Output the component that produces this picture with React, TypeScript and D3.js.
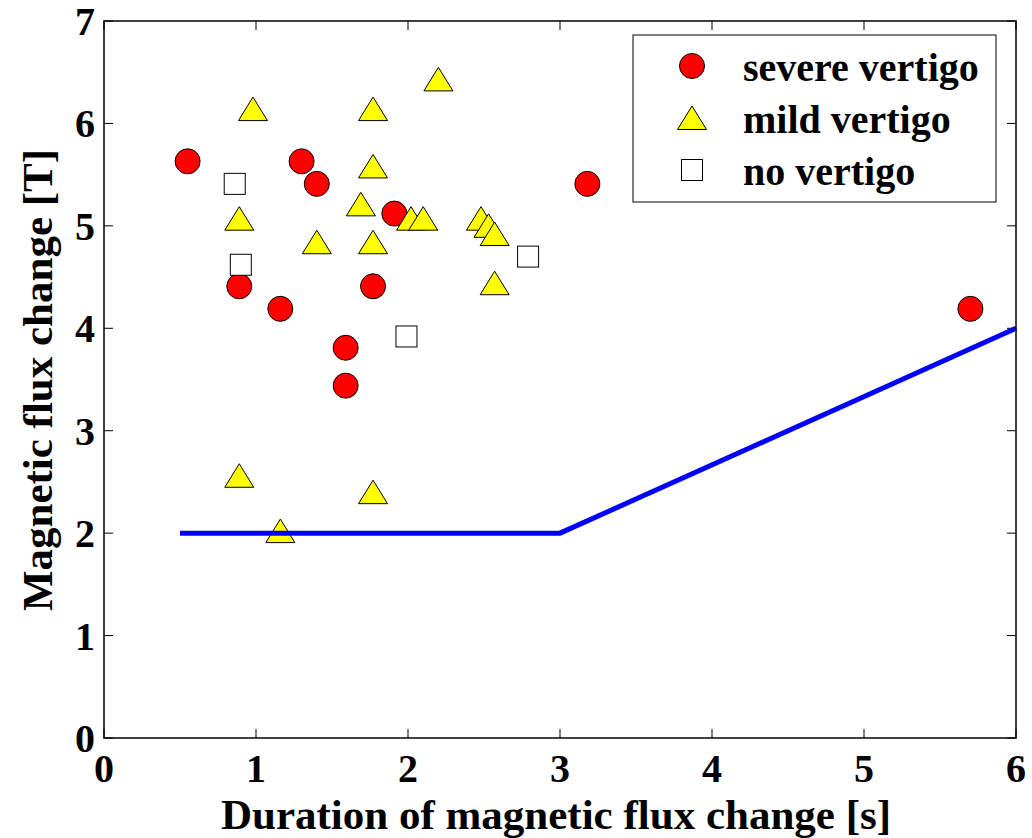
import React from "react";
import * as d3 from "d3";

// duration [s], flux change [T]
const severeX = [0.55, 1.3, 1.4, 1.91, 0.89, 1.77, 1.16, 1.59, 1.59, 3.18, 5.7];
const severeY = [5.63, 5.63, 5.41, 5.12, 4.41, 4.41, 4.19, 3.81, 3.44, 5.41, 4.19];

const mildX = [0.98, 1.77, 2.2, 1.77, 1.69, 0.89, 2.02, 2.1, 2.48, 2.53, 2.57, 1.4, 1.77, 2.57, 0.89, 1.77, 1.16];
const mildY = [6.14, 6.14, 6.43, 5.58, 5.21, 5.07, 5.07, 5.07, 5.07, 5.0, 4.92, 4.84, 4.84, 4.44, 2.56, 2.4, 2.02];

const noneX = [0.86, 0.9, 1.99, 2.79];
const noneY = [5.41, 4.62, 3.92, 4.7];

// threshold line
const limitX = [0.5, 3, 6];
const limitY = [2, 2, 4];

const xTicks = [0, 1, 2, 3, 4, 5, 6];
const yTicks = [0, 1, 2, 3, 4, 5, 6, 7];

const legendItems = ["severe vertigo", "mild vertigo", "no vertigo"];

const font = "'Liberation Serif', 'Times New Roman', serif";

export default function App() {
  const left = 104, right = 1016, top = 21, bottom = 738;
  const x = d3.scaleLinear().domain([0, 6]).range([left, right]);
  const y = d3.scaleLinear().domain([0, 7]).range([bottom, top]);

  const tri = (cx: number, cy: number) =>
    `M${cx},${cy - 12} L${cx + 14.5},${cy + 11.5} L${cx - 14.5},${cy + 11.5} Z`;

  const line = d3
    .line<number>()
    .x((d) => x(d))
    .y((_, i) => y(limitY[i]));

  const tickLen = 9;

  return (
    <svg
      width={1032}
      height={838}
      style={{ position: "absolute", left: 0, top: 0, background: "#fff" }}
      fontFamily={font}
      fontWeight="bold"
    >
      <rect x={0} y={0} width={1032} height={838} fill="#fff" />

      {/* ticks */}
      {xTicks.map((t) => (
        <g key={"xt" + t}>
          <line x1={x(t)} x2={x(t)} y1={bottom} y2={bottom - tickLen} stroke="#000" />
          <line x1={x(t)} x2={x(t)} y1={top} y2={top + tickLen} stroke="#000" />
          <text x={x(t)} y={782} fontSize={40} textAnchor="middle">
            {t}
          </text>
        </g>
      ))}
      {yTicks.map((t) => (
        <g key={"yt" + t}>
          <line x1={left} x2={left + tickLen} y1={y(t)} y2={y(t)} stroke="#000" />
          <line x1={right} x2={right - tickLen} y1={y(t)} y2={y(t)} stroke="#000" />
          <text x={95} y={y(t) + 14} fontSize={40} textAnchor="end">
            {t}
          </text>
        </g>
      ))}

      {/* markers */}
      {severeX.map((v, i) => (
        <circle key={"s" + i} cx={x(v)} cy={y(severeY[i])} r={12.5} fill="#ff0000" stroke="#000" strokeWidth={1} />
      ))}
      {mildX.map((v, i) => (
        <path key={"m" + i} d={tri(x(v), y(mildY[i]))} fill="#ffff00" stroke="#000" strokeWidth={1} />
      ))}
      {noneX.map((v, i) => (
        <rect key={"n" + i} x={x(v) - 10.5} y={y(noneY[i]) - 10.5} width={21} height={21} fill="#fff" stroke="#000" strokeWidth={1} />
      ))}

      <path d={line(limitX) || ""} fill="none" stroke="#0000ff" strokeWidth={5} />

      {/* axes box */}
      <rect x={left} y={top} width={right - left} height={bottom - top} fill="none" stroke="#000" strokeWidth={1.5} />

      {/* legend */}
      <rect x={633} y={35} width={363} height={167} fill="#fff" stroke="#000" strokeWidth={1} />
      {legendItems.map((name, i) => {
        const ry = 66 + i * 52;
        return (
          <g key={name}>
            {i === 0 && <circle cx={692} cy={ry} r={12.5} fill="#ff0000" stroke="#000" />}
            {i === 1 && <path d={tri(692, ry)} fill="#ffff00" stroke="#000" />}
            {i === 2 && <rect x={681.5} y={ry - 10.5} width={21} height={21} fill="#fff" stroke="#000" />}
            <text x={743} y={ry + 15} fontSize={40}>
              {name}
            </text>
          </g>
        );
      })}

      {/* axis labels */}
      <text x={556} y={829} fontSize={43} textAnchor="middle">
        Duration of magnetic flux change [s]
      </text>
      <text transform={`translate(52,${380}) rotate(-90)`} fontSize={43} textAnchor="middle">
        Magnetic flux change [T]
      </text>
    </svg>
  );
}
